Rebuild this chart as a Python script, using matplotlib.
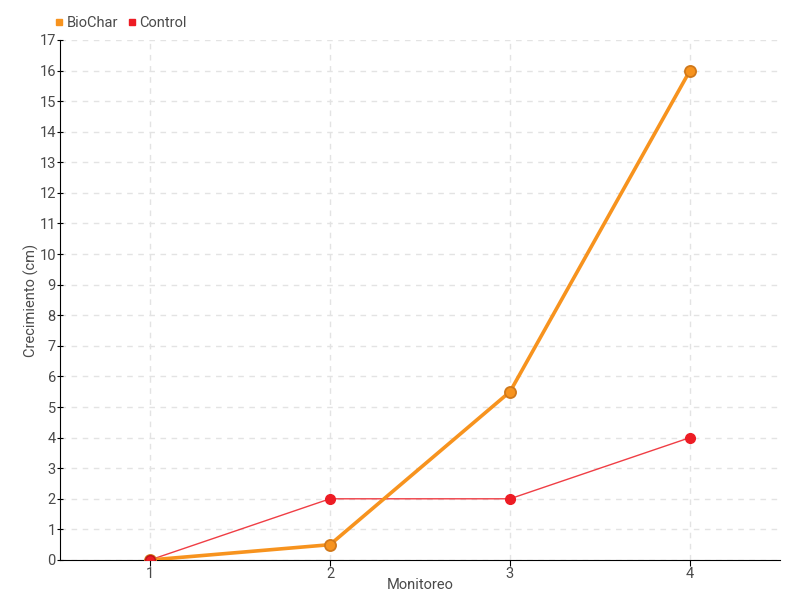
import matplotlib.pyplot as plt
from matplotlib.lines import Line2D

plt.rcParams['font.family'] = ['Roboto', 'DejaVu Sans']

monitoreo = [1, 2, 3, 4]
biochar = [0, 0.5, 5.5, 16]
control = [0, 2, 2, 4]

c_bio = '#f7931e'
c_ctl = '#ed1c24'
txt = '#4a4a4a'

fig = plt.figure(figsize=(8, 6), dpi=100)
ax = fig.add_axes([0.075, 0.0667, 0.9, 0.8667])

ax.plot(monitoreo, control, color=c_ctl, linewidth=1, alpha=0.85, zorder=3)
ax.plot(monitoreo, control, 'o', color=c_ctl, markersize=7, markeredgecolor=c_ctl, zorder=4)
ax.plot(monitoreo, biochar, color=c_bio, linewidth=2.6, zorder=5)
ax.plot(monitoreo, biochar, 'o', color=c_bio, markersize=8, markeredgecolor='#d0781a',
        markeredgewidth=1.3, zorder=6)
# el punto de control en 1 queda encima
ax.plot(monitoreo[0], control[0], 'o', color=c_ctl, markersize=7, markeredgecolor='#c0101a', zorder=7)

ax.set_xlim(0.5, 4.5)
ax.set_ylim(0, 17)
ax.set_xticks(monitoreo)
ax.set_yticks(range(0, 18))
ax.grid(True, linestyle=(0, (4, 4)), color='#e3e3e3', linewidth=1)
ax.set_axisbelow(True)
for s in ['top', 'right']:
    ax.spines[s].set_visible(False)
ax.spines['left'].set_color('black')
ax.spines['bottom'].set_color('black')
ax.tick_params(axis='both', colors='black', labelcolor=txt, labelsize=10.5, length=4)
ax.tick_params(axis='x', pad=1)
ax.tick_params(axis='y', direction='inout', pad=1)

ax.set_xlabel('Monitoreo', color=txt, fontsize=10.5, labelpad=-2)
ax.set_ylabel('Crecimiento (cm)', color=txt, fontsize=10.5, labelpad=0)

handles = [Line2D([], [], marker='s', linestyle='', color=c_bio, markersize=5),
           Line2D([], [], marker='s', linestyle='', color=c_ctl, markersize=5)]
fig.legend(handles, ['BioChar', 'Control'], loc='upper left', bbox_to_anchor=(0.05, 0.995),
           ncol=2, frameon=False, fontsize=10.5, labelcolor=txt, handletextpad=0.1,
           columnspacing=0.6, handlelength=0.8)

fig.savefig('out.png', dpi=100)
